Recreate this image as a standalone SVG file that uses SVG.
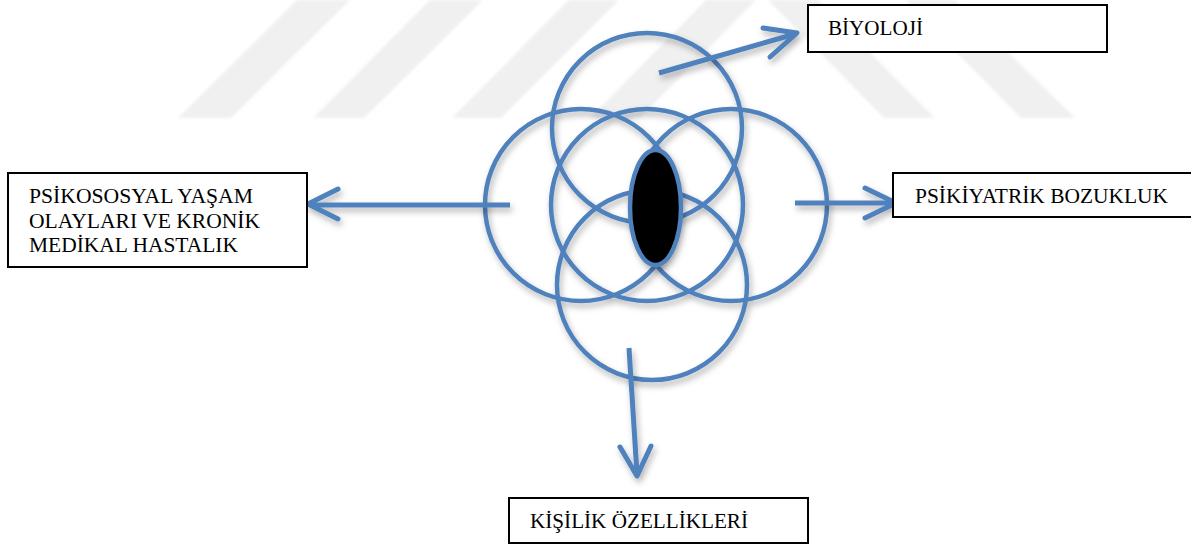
<svg xmlns="http://www.w3.org/2000/svg" width="1191" height="547" viewBox="0 0 1191 547">
<defs>
<filter id="sh" x="-20%" y="-20%" width="140%" height="140%">
<feDropShadow dx="2" dy="4" stdDeviation="3" flood-color="#000" flood-opacity="0.3"/>
</filter>
<filter id="blur" x="-10%" y="-10%" width="120%" height="120%">
<feGaussianBlur stdDeviation="1.5"/>
</filter>
</defs>
<style>
.ring{fill:none;stroke:#4F81BD;stroke-width:4.5}
.arr{fill:none;stroke:#4F81BD;stroke-width:5;stroke-linecap:butt;stroke-linejoin:round}
.head{fill:none;stroke:#4F81BD;stroke-width:5;stroke-linecap:round;stroke-linejoin:round}
.box{fill:#fff;stroke:#000;stroke-width:2}
.lbl{font-family:"Liberation Serif","Times New Roman",serif;font-size:21px;fill:#000}
.wm{fill:#f0f0f0}
</style>
<rect width="1191" height="547" fill="#fff"/>
<g id="watermark" filter="url(#blur)">
<polygon class="wm" points="297,0 350,0 231,118 178,118"/>
<polygon class="wm" points="430,0 483,0 364,118 313,118"/>
<polygon class="wm" points="569,0 619,0 501,118 452,118"/>
<polygon class="wm" points="706,0 756,0 640,118 590,118"/>
<polygon class="wm" points="768,0 818,0 935,118 884,118"/>
<polygon class="wm" points="905,0 955,0 1075,118 1021,118"/>
</g>
<g id="circles" filter="url(#sh)">
<circle class="ring" cx="647" cy="128" r="95"/>
<circle class="ring" cx="581" cy="205" r="96"/>
<circle class="ring" cx="731" cy="205" r="96"/>
<circle class="ring" cx="647" cy="205" r="96"/>
<circle class="ring" cx="652" cy="285" r="95"/>
</g>
<g id="core" filter="url(#sh)">
<ellipse cx="655.5" cy="207.5" rx="25.5" ry="57.5" fill="#000" stroke="#4F81BD" stroke-width="4.5"/>
</g>
<g id="connectors" filter="url(#sh)">
<line class="arr" x1="659" y1="73" x2="795" y2="34"/>
<polyline class="head" points="763,28 797,33 770,57"/>
<line class="arr" x1="510" y1="205" x2="310" y2="205"/>
<polyline class="head" points="338,189 308,204 338,219"/>
<line class="arr" x1="795" y1="203" x2="894" y2="203"/>
<polyline class="head" points="865,188 896,203 865,218"/>
<line class="arr" x1="629" y1="348" x2="637" y2="474"/>
<polyline class="head" points="620,447 637,476 651,446"/>
</g>
<g id="biyoloji">
<rect class="box" x="808" y="5" width="299" height="47"/>
<text class="lbl" x="828" y="35" textLength="95" lengthAdjust="spacingAndGlyphs">BİYOLOJİ</text>
</g>
<g id="psikososyal">
<rect class="box" x="8" y="173" width="299" height="94"/>
<text class="lbl" x="29" y="203" textLength="224" lengthAdjust="spacingAndGlyphs">PSİKOSOSYAL YAŞAM</text>
<text class="lbl" x="29" y="227.5" textLength="231" lengthAdjust="spacingAndGlyphs">OLAYLARI VE KRONİK</text>
<text class="lbl" x="29" y="252" textLength="209" lengthAdjust="spacingAndGlyphs">MEDİKAL HASTALIK</text>
</g>
<g id="psikiyatrik">
<rect class="box" x="893" y="173" width="305" height="44"/>
<text class="lbl" x="915" y="203" textLength="253" lengthAdjust="spacingAndGlyphs">PSİKİYATRİK BOZUKLUK</text>
</g>
<g id="kisilik">
<rect class="box" x="509" y="498" width="299" height="45"/>
<text class="lbl" x="530" y="528" textLength="218" lengthAdjust="spacingAndGlyphs">KİŞİLİK ÖZELLİKLERİ</text>
</g>
</svg>
